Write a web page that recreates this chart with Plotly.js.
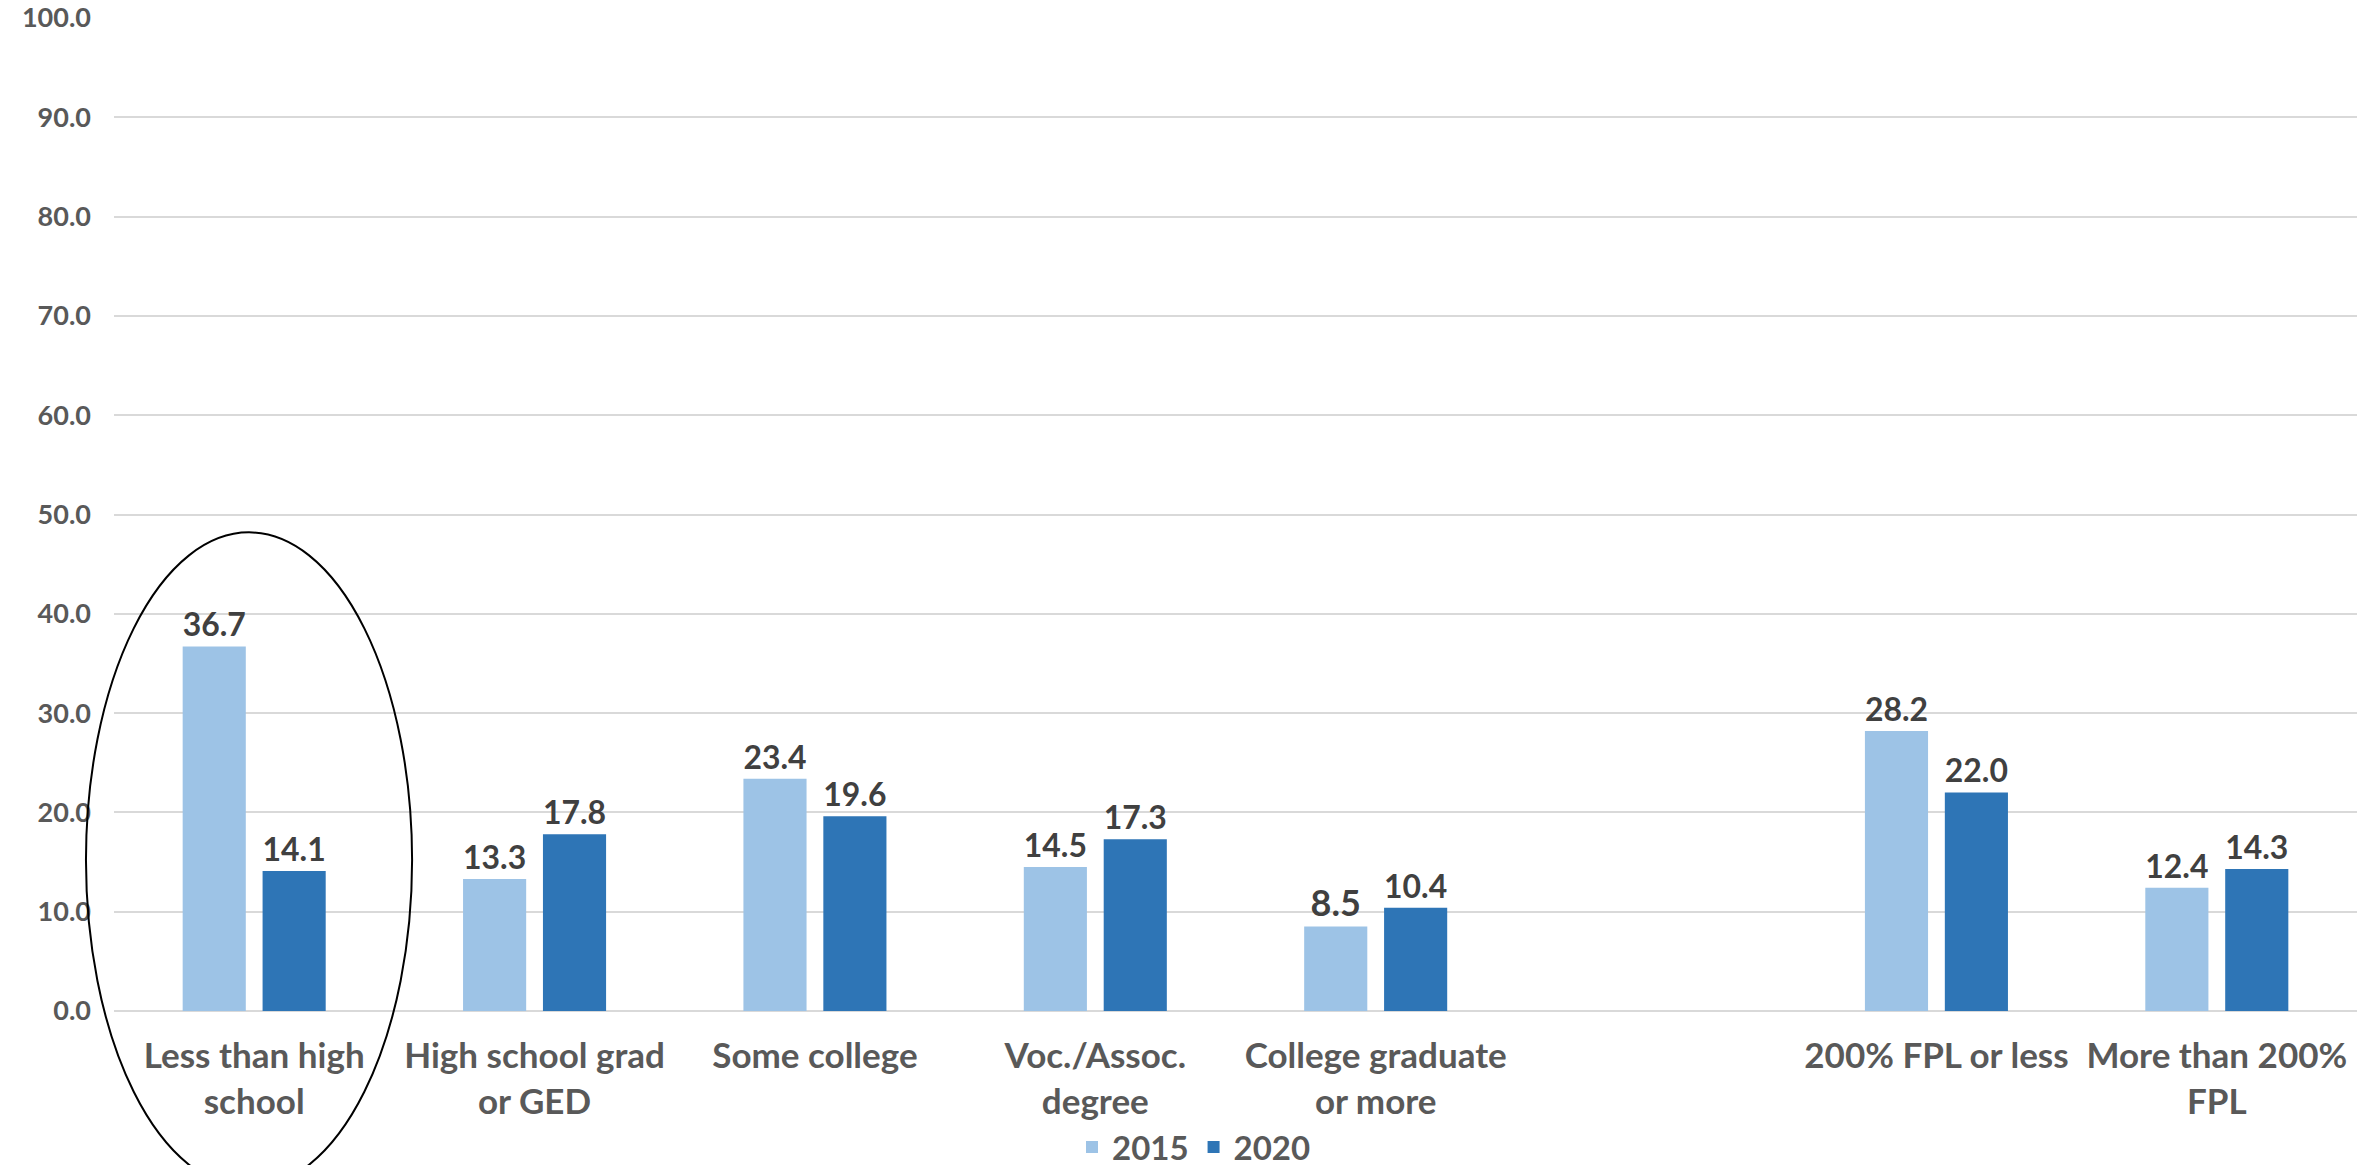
<!DOCTYPE html>
<html>
<head>
<meta charset="utf-8">
<script src="https://cdn.plot.ly/plotly-3.0.1.min.js"></script>
<style>html,body{margin:0;padding:0;background:#fff;}#chart{width:2369px;height:1165px;}</style>
</head>
<body>
<div id="chart"></div>
<script>
var categories = ["Less than high<br>school", "High school grad<br>or GED", "Some college", "Voc./Assoc.<br>degree", "College graduate<br>or more", " ", "200% FPL or less", "More than 200%<br>FPL"];
var values2015 = [36.7, 13.3, 23.4, 14.5, 8.5, null, 28.2, 12.4];
var values2020 = [14.1, 17.8, 19.6, 17.3, 10.4, null, 22.0, 14.3];
var seriesNames = ["2015", "2020"];
var yTickVals = [0, 10, 20, 30, 40, 50, 60, 70, 80, 90, 100];
var yTickText = ["0.0", "10.0", "20.0", "30.0", "40.0", "50.0", "60.0", "70.0", "80.0", "90.0", "100.0"];

function fmt(v){ return v === null ? "" : v.toFixed(1); }

var font = "Lato, 'Open Sans', sans-serif";
var traces = [
  {type: "bar", name: seriesNames[0], x: categories, y: values2015,
   marker: {color: "#9DC3E6"}, text: values2015.map(fmt), textposition: "outside",
   textfont: {family: font, size: 36, color: "#404040", weight: "bold"}, cliponaxis: false, hoverinfo: "x+y"},
  {type: "bar", name: seriesNames[1], x: categories, y: values2020,
   marker: {color: "#2E75B6"}, text: values2020.map(fmt), textposition: "outside",
   textfont: {family: font, size: 36, color: "#404040", weight: "bold"}, cliponaxis: false, hoverinfo: "x+y"}
];

var layout = {
  width: 2369, height: 1165,
  margin: {l: 114, r: 12, t: 18, b: 154, autoexpand: false},
  paper_bgcolor: "#ffffff", plot_bgcolor: "#ffffff",
  barmode: "group", bargap: 0.43, bargroupgap: 0.21,
  font: {family: font, color: "#595959"},
  xaxis: {type: "category", showgrid: false, zeroline: false, showline: false, ticks: "", ticklabelstandoff: 21,
          tickfont: {family: font, size: 35, color: "#595959", weight: "bold"}},
  yaxis: {range: [0, 100], tickvals: yTickVals, ticktext: yTickText, showgrid: true,
          gridcolor: "#D9D9D9", gridwidth: 2, zeroline: true, zerolinecolor: "#D9D9D9", zerolinewidth: 2,
          showline: false, ticks: "", ticklabelstandoff: 22,
          tickfont: {family: font, size: 27, color: "#595959", weight: "bold"}},
  showlegend: true,
  legend: {orientation: "h", x: 0.4815, xanchor: "center", y: -0.137, yanchor: "middle", bgcolor: "rgba(0,0,0,0)",
           font: {family: font, size: 33, color: "#595959", weight: "bold"}, itemwidth: 30, traceorder: "normal"},
  shapes: [{type: "circle", xref: "paper", yref: "paper", x0: -0.0125, x1: 0.1329, y0: -0.178, y1: 0.482,
            line: {color: "#000000", width: 2}, fillcolor: "rgba(0,0,0,0)", layer: "above"}],
  annotations: [{text: "75", xref: "paper", yref: "paper", x: 0.9545, y: -0.1475, xanchor: "center", yanchor: "top",
                 showarrow: false, font: {family: font, size: 30, color: "#7F7F7F"}}]
};

Plotly.newPlot("chart", traces, layout, {displayModeBar: false, staticPlot: true});
</script>
</body>
</html>
